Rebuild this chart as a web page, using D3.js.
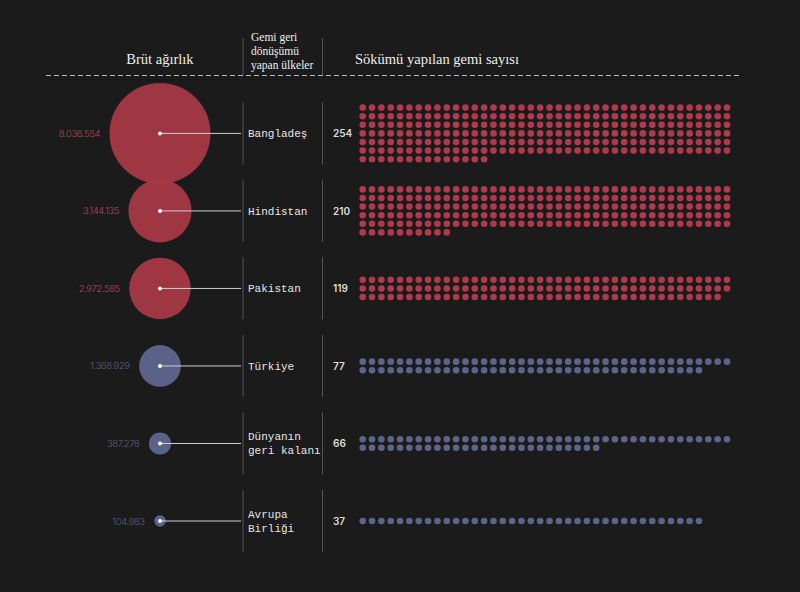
<!DOCTYPE html>
<html>
<head>
<meta charset="utf-8">
<script src="https://cdn.jsdelivr.net/npm/d3@7"></script>
<style>
  html, body { margin: 0; padding: 0; background: #1b1b1b; }
  svg { display: block; }
</style>
</head>
<body>
<div id="chart"></div>
<script>
// data
const countries = ["Bangladeş", "Hindistan", "Pakistan", "Türkiye", "Dünyanın geri kalanı", "Avrupa Birliği"];
const labelLines = [["Bangladeş"], ["Hindistan"], ["Pakistan"], ["Türkiye"], ["Dünyanın", "geri kalanı"], ["Avrupa", "Birliği"]];
const tonnage = [8036554, 3144135, 2972585, 1368929, 387278, 104983];
const ships = [254, 210, 119, 77, 66, 37];
const highlight = [true, true, true, false, false, false];

const width = 800, height = 592;
const perRow = 40;

const red = "#aa3a47", blue = "#5f6892";
const redDot = "#b03a4b", blueDot = "#5d6489";

const svg = d3.select("#chart").append("svg").attr("width", width).attr("height", height);

const y = d3.scalePoint().domain(countries).range([133.4, 521]);
const r = d3.scaleSqrt().domain([0, d3.max(tonnage)]).range([0, 50.5]);
const col = d3.scaleLinear().domain([0, perRow - 1]).range([362.7, 727]);
const rowGap = 8.6;
const cx = 160;
const fmt = n => d3.format(",")(n).replace(/,/g, ".");

// header
const head = svg.append("g");
head.append("text").attr("x", 160).attr("y", 64).attr("text-anchor", "middle")
  .attr("font-family", "Liberation Serif").attr("font-size", 14.5).attr("fill", "#eee")
  .text("Brüt ağırlık");
const sub = head.append("text").attr("font-family", "Liberation Serif").attr("font-size", 11.5).attr("fill", "#eee");
["Gemi geri", "dönüşümü", "yapan ülkeler"].forEach((t, i) => {
  sub.append("tspan").attr("x", 251).attr("y", 41 + i * 14).text(t);
});
head.append("text").attr("x", 355).attr("y", 64)
  .attr("font-family", "Liberation Serif").attr("font-size", 14.5).attr("fill", "#eee")
  .text("Sökümü yapılan gemi sayısı");
head.append("line").attr("x1", 46).attr("x2", 739).attr("y1", 75.5).attr("y2", 75.5)
  .attr("stroke", "#bbb").attr("stroke-width", 1).attr("stroke-dasharray", "5,3");
[243, 322.5].forEach(x => {
  head.append("line").attr("x1", x).attr("x2", x).attr("y1", 38).attr("y2", 75)
    .attr("stroke", "#555").attr("stroke-width", 1);
});

// rows
const rows = svg.append("g").selectAll("g").data(countries).join("g")
  .attr("transform", d => `translate(0,${y(d)})`);

rows.append("circle").attr("cx", cx).attr("cy", 0)
  .attr("r", (d, i) => r(tonnage[i]))
  .attr("fill", (d, i) => highlight[i] ? red : blue)
  .attr("fill-opacity", 0.92);

rows.append("line").attr("x1", cx).attr("x2", 241).attr("y1", 0).attr("y2", 0)
  .attr("stroke", "#cfcfcf").attr("stroke-width", 1);

rows.append("circle").attr("cx", cx).attr("cy", 0).attr("r", 2).attr("fill", "#fff");

rows.append("text")
  .attr("x", (d, i) => cx - r(tonnage[i]) - 9.5)
  .attr("y", 3.5).attr("text-anchor", "end")
  .attr("font-family", "Inter").attr("font-weight", 300).attr("font-size", 9.5)
  .attr("letter-spacing", -0.4)
  .attr("fill", (d, i) => highlight[i] ? "#b44a55" : "#5a6082")
  .text((d, i) => fmt(tonnage[i]));

[243, 322.5].forEach(x => {
  rows.append("line").attr("x1", x).attr("x2", x).attr("y1", -31).attr("y2", 31)
    .attr("stroke", "#555").attr("stroke-width", 1);
});

rows.each(function(d, i) {
  const g = d3.select(this);
  const lines = labelLines[i];
  const t = g.append("text").attr("font-family", "Liberation Mono").attr("font-size", 11)
    .attr("fill", "#e6e6e6");
  lines.forEach((l, k) => {
    t.append("tspan").attr("x", 248).attr("y", 4 + (k - (lines.length - 1) / 2) * 14).text(l);
  });

  g.append("text").attr("x", 333).attr("y", 4)
    .attr("font-family", "Inter").attr("font-weight", 600).attr("font-size", 10)
    .attr("fill", "#ddd").text(ships[i]);

  const n = ships[i];
  const nRows = Math.ceil(n / perRow);
  g.append("g").selectAll("circle").data(d3.range(n)).join("circle")
    .attr("cx", k => col(k % perRow))
    .attr("cy", k => (Math.floor(k / perRow) - (nRows - 1) / 2) * rowGap)
    .attr("r", 3.3)
    .attr("fill", highlight[i] ? redDot : blueDot);
});
</script>
</body>
</html>
